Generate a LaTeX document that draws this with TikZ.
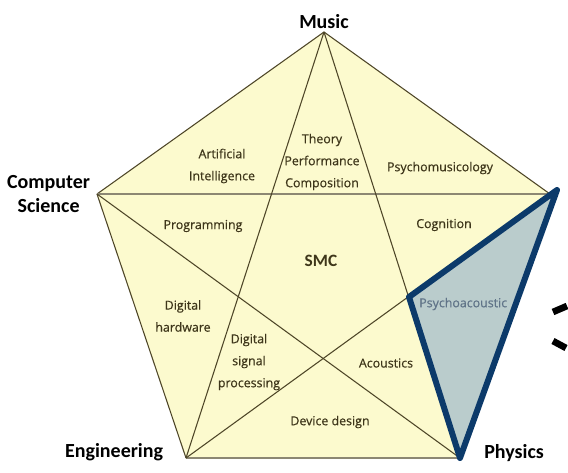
\documentclass[tikz,border=0pt]{standalone}
\usepackage{fontspec}
\setmainfont{Carlito}
\newfontfamily\areafont[FakeBold=0.5]{Open Sans}
\usetikzlibrary{positioning}
\definecolor{padfill}{RGB}{252,250,206}
\definecolor{padline}{RGB}{78,70,40}
\definecolor{padtext}{RGB}{62,54,26}
\definecolor{navy}{RGB}{12,58,106}
\definecolor{psyfill}{RGB}{186,204,204}
\definecolor{psytext}{RGB}{96,116,136}

\begin{document}
\begin{tikzpicture}[x=0.75pt,y=-0.75pt,
vertexlabel/.style={font=\bfseries\fontsize{15}{18}\selectfont, text=black, align=center, inner sep=0pt},
arealabel/.style={font=\areafont\fontsize{9.3}{16.5}\selectfont, text=padtext, align=center, inner sep=0pt},
fieldline/.style={draw=padline, line width=0.8pt},
heavyline/.style={draw=padline!65, line width=2pt}
]
\useasboundingbox (0,0) rectangle (568,472);
%Corners
\coordinate (music) at (324,32);
\coordinate (cs)    at (97,194);
\coordinate (rgt)   at (550,194);
\coordinate (eng)   at (186,458);
\coordinate (phys)  at (460,458);
\coordinate (psytop) at (557,190);
\coordinate (psymid) at (409,297);
%Pentagon
\fill[padfill] (music) -- (rgt) -- (phys) -- (eng) -- (cs) -- cycle;
\draw[fieldline] (cs) -- (music) -- (rgt);
\draw[fieldline] (cs) -- (eng);
\draw[fieldline] (rgt) -- (phys);
\draw[heavyline] (cs) -- (rgt);
\draw[heavyline] (eng) -- (phys);
%Star
\draw[fieldline] (music) -- (eng);
\draw[fieldline] (music) -- (phys);
\draw[fieldline] (cs) -- (phys);
\draw[fieldline] (eng) -- (rgt);
%Corner labels
\node[vertexlabel] (musiclabel) [above=2pt of music] {Music};
\node[vertexlabel] (cslabel) [left=5pt of cs] {Computer\\Science};
\node[vertexlabel] (englabel) [left=17pt of eng, yshift=4pt] {Engineering};
\node[vertexlabel] (physlabel) [right=18pt of phys, yshift=4pt] {Physics};
%Areas
\node[arealabel] (ai)    at (222,166) {Artificial\\Intelligence};
\node[arealabel] (tpc)   at (322,162) {Theory\\Performance\\Composition};
\node[arealabel] (pmus)  at (440,168) {Psychomusicology};
\node[arealabel] (prog)  at (203,226) {Programming};
\node[arealabel] (cogn)  at (444,225) {Cognition};
\node[font=\bfseries\fontsize{13}{15}\selectfont, text=padtext] (smc) at (321,261) {SMC};
\node[arealabel] (dhw)   at (183,316) {Digital\\hardware};
\node[arealabel] (dsp)   at (249,362) {Digital\\signal\\processing};
\node[arealabel] (acou)  at (386,363) {Acoustics};
\node[arealabel] (dev)   at (330,422) {Device design};
%Highlight
\fill[psyfill] (psytop) -- (psymid) -- (phys) -- cycle;
\node[arealabel, text=psytext, anchor=west] (pacou) at (419,304) {Psychoacoustic};
\draw[navy, line width=4.5pt, line join=round] (psytop) -- (psymid) -- (phys) -- cycle;
%Marks
\draw[black, line width=5pt] (553,312) -- (567,306);
\draw[black, line width=5pt] (553,341) -- (566,348);
\end{tikzpicture}
\end{document}
